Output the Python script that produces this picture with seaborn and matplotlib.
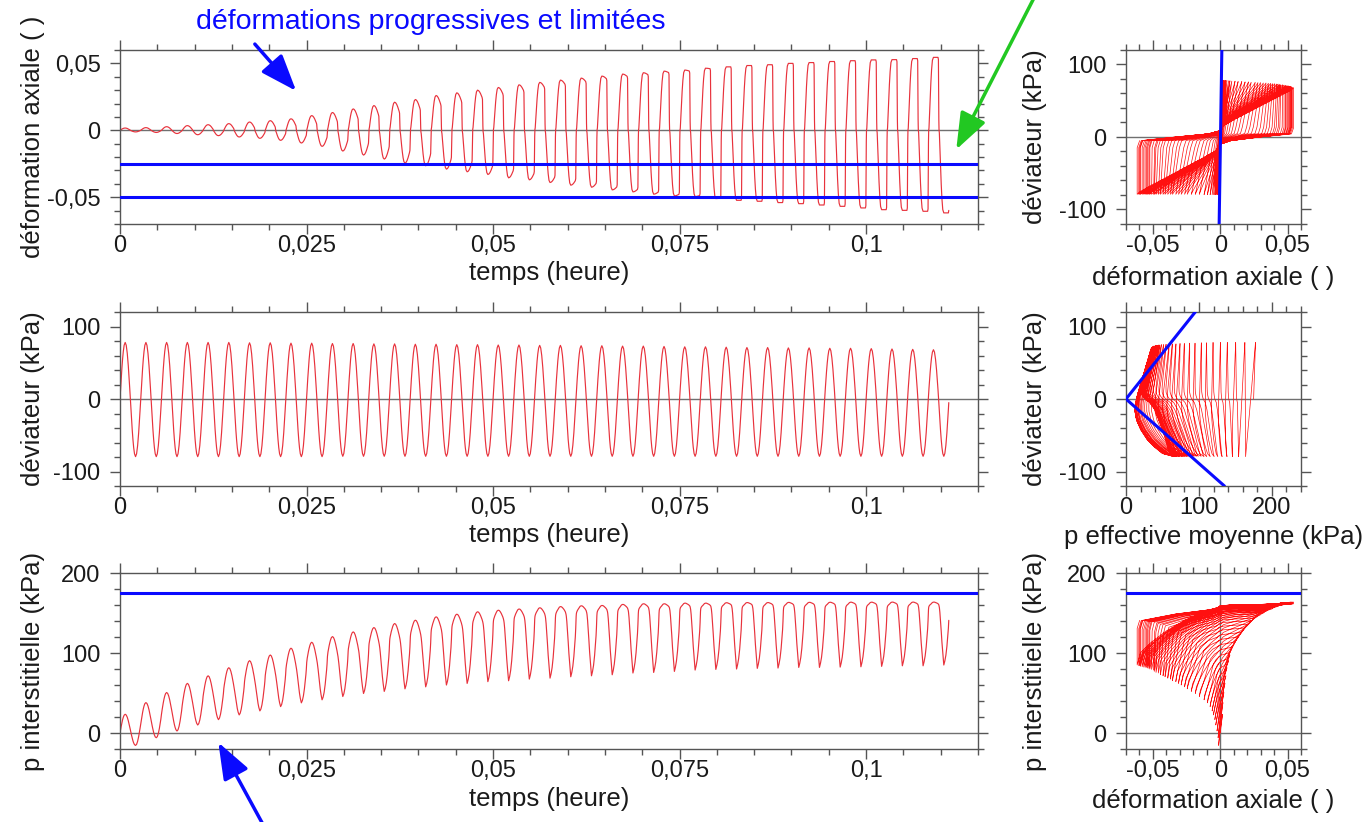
import numpy as np
import pandas as pd
import matplotlib
matplotlib.use("Agg")
import matplotlib.pyplot as plt
import seaborn as sns
from matplotlib.ticker import MultipleLocator, FuncFormatter
from matplotlib.patches import FancyArrowPatch

# ------------------------------------------------------------------ data
cycle_period_h = 10.0 / 3600.0      # 10 s loading cycles
n_cycles = 40
p0_eff = 175.0                      # initial mean effective stress (kPa)

# per-cycle extremes
q_peak = [78, 78, 78, 78, 78, 78, 77.5, 77.5, 77, 77, 76.5, 76.5, 76, 76, 75.5, 75.5,
          75, 75, 74.5, 74.5, 74, 74, 73.5, 73.5, 73, 73, 72.5, 72, 72, 71.5, 71, 71,
          70.5, 70.5, 70, 70, 69.5, 69, 68.5, 68]
q_trough = [-79.5, -79.5, -79.5, -79.5, -79.5, -79.5, -79.5, -79.5, -79.5, -79.5,
            -79, -79, -79, -79, -79, -79, -79, -79, -79, -79, -79, -79, -79, -79, -79,
            -79, -79, -79, -79, -79, -79, -79, -79, -79, -79, -79, -79, -79, -79, -79]
eps_peak = [0.0017, 0.002, 0.0027, 0.0035, 0.0042, 0.005, 0.0062, 0.0072, 0.0086, 0.011,
            0.0133, 0.016, 0.0185, 0.021, 0.023, 0.026, 0.028, 0.030, 0.032, 0.034,
            0.0358, 0.0375, 0.039, 0.0405, 0.042, 0.043, 0.0442, 0.045, 0.0464, 0.0474,
            0.0484, 0.049, 0.050, 0.0506, 0.0514, 0.052, 0.0526, 0.0528, 0.0536, 0.0545]
eps_trough = [-0.0012, -0.0016, -0.0024, -0.0033, -0.004, -0.005, -0.006, -0.0075, -0.0095,
              -0.012, -0.0155, -0.0185, -0.0215, -0.0245, -0.0265, -0.029, -0.031, -0.033,
              -0.0355, -0.037, -0.039, -0.041, -0.0425, -0.0445, -0.046, -0.0477, -0.049,
              -0.0495, -0.051, -0.0523, -0.053, -0.054, -0.0548, -0.0558, -0.0568, -0.058,
              -0.0593, -0.0598, -0.0605, -0.0617]
u_peak = [23.4, 38, 50.6, 62, 71.5, 81.6, 90.4, 97.5, 106, 113.4, 120.5, 126.4, 131.8,
          136.8, 141, 145.2, 148.5, 151.5, 153.5, 155, 156.5, 158, 159, 159.4, 160.7,
          161.5, 161.5, 162.3, 162.3, 162.8, 163, 163, 163.2, 163.3, 163.4, 163.5, 163.5,
          163.6, 163.6, 163.6]
u_trough = [-15.5, -5.9, 2.5, 10, 16.7, 22.6, 27.6, 33, 37.7, 41.5, 45.6, 49.4, 52, 55.2,
            57.7, 60, 62, 64.2, 65.3, 67.4, 68.6, 70.3, 71.5, 72.8, 75, 75.7, 77, 78.7,
            79.5, 80, 80.8, 81.2, 82, 82, 82.4, 82.8, 83.3, 84, 84, 85]
u_start_trough = -23.4
# how far each cycle's waveform has turned into the liquefied (late) shape
shape_weight = [0.0, 0.0, 0.05, 0.1, 0.15, 0.2, 0.25, 0.3, 0.35, 0.4, 0.45, 0.5, 0.55,
                0.6, 0.65, 0.7, 0.74, 0.78, 0.82, 0.85, 0.88, 0.9, 0.92, 0.94, 0.95, 0.96,
                0.97, 0.98, 0.99, 1.0, 1.0, 1.0, 1.0, 1.0, 1.0, 1.0, 1.0, 1.0, 1.0, 1.0]

# waveform shapes within one cycle (fraction of cycle)
phase = [0.0, 0.01, 0.02, 0.035, 0.06, 0.09, 0.125, 0.16, 0.2, 0.25, 0.3, 0.35, 0.4, 0.44,
         0.47, 0.49, 0.5, 0.51, 0.52, 0.535, 0.56, 0.59, 0.625, 0.66, 0.7, 0.75, 0.8, 0.85,
         0.9, 0.94, 0.97, 0.99]
q_shape = [0.0, 0.063, 0.125, 0.218, 0.368, 0.536, 0.707, 0.844, 0.951, 1.0, 0.951, 0.809,
           0.588, 0.368, 0.187, 0.063, 0.0, -0.063, -0.125, -0.218, -0.368, -0.536, -0.707,
           -0.844, -0.951, -1.0, -0.951, -0.809, -0.588, -0.368, -0.187, -0.063]
eps_shape_early = q_shape
eps_shape_late = [-0.55, -0.15, 0.0, 0.03, 0.21, 0.43, 0.65, 0.83, 0.96, 1.0, 1.0, 1.0, 1.0,
                  1.0, 1.0, 0.97, 0.55, 0.15, 0.0, -0.03, -0.21, -0.43, -0.65, -0.83, -0.96,
                  -1.0, -1.0, -1.0, -1.0, -1.0, -1.0, -0.97]
u_shape_early = [0.5, 0.532, 0.563, 0.609, 0.684, 0.768, 0.854, 0.922, 0.976, 1.0, 0.976,
                 0.905, 0.794, 0.684, 0.594, 0.532, 0.5, 0.469, 0.438, 0.391, 0.316, 0.232,
                 0.146, 0.078, 0.024, 0.0, 0.024, 0.095, 0.206, 0.316, 0.406, 0.469]
u_shape_late = [0.813, 0.877, 0.916, 0.935, 0.948, 0.959, 0.968, 0.981, 0.994, 1.0, 1.0,
                0.994, 0.987, 0.981, 0.974, 0.968, 0.961, 0.955, 0.942, 0.916, 0.839, 0.71,
                0.542, 0.361, 0.194, 0.0, 0.065, 0.155, 0.297, 0.452, 0.581, 0.71]

strain_limits = [-0.025, -0.05]
u_limit = 175.0
elastic_eps = [-0.0008, 0.0012]
elastic_q = [-120, 120]
failure_p = [95, 0, 135]
failure_q = [120, 0, -120]

# ------------------------------------------------------------------ build series
rows = []
for k in range(n_cycles):
    w = shape_weight[k]
    nxt = min(k + 1, n_cycles - 1)
    for j, ph in enumerate(phase):
        t = (k + ph) * cycle_period_h
        c = q_shape[j]
        q = c * q_peak[k] if c >= 0 else -c * q_trough[k]
        s = w * eps_shape_late[j] + (1 - w) * eps_shape_early[j]
        if s >= 0:
            e = s * (eps_peak[nxt] if ph >= 0.75 else eps_peak[k])
        else:
            lo = eps_trough[k - 1] if (ph < 0.25 and k > 0) else eps_trough[k]
            e = -s * lo
        r = w * u_shape_late[j] + (1 - w) * u_shape_early[j]
        if ph < 0.25:
            lo_u = u_trough[k - 1] if k > 0 else u_start_trough
            hi_u = u_peak[k]
        elif ph < 0.75:
            lo_u, hi_u = u_trough[k], u_peak[k]
        else:
            lo_u, hi_u = u_trough[k], u_peak[nxt]
        u = lo_u + r * (hi_u - lo_u)
        rows.append((t, q, e, u))

df = pd.DataFrame(rows, columns=["t", "q", "eps", "u"])
df["p"] = p0_eff + df["q"] / 3.0 - df["u"]

# ------------------------------------------------------------------ style
sns.set_theme(style="ticks")
plt.rcParams["font.family"] = ["Liberation Sans", "DejaVu Sans"]
plt.rcParams["axes.unicode_minus"] = False

W, H = 1369, 822
fig = plt.figure(figsize=(W / 100, H / 100), dpi=100)


def px_axes(x0, y0, x1, y1):
    return fig.add_axes([x0 / W, 1 - y1 / H, (x1 - x0) / W, (y1 - y0) / H])


def fmt(x, pos):
    s = f"{x:.3f}".rstrip("0").rstrip(".")
    if s in ("-0", ""):
        s = "0"
    return s.replace(".", ",")


TXT = "#1a1a1a"
AX = "#555555"
RED_T = "#e8323c"
RED_L = "#ff1010"
BLUE = "#0a0aff"


def style(ax, xlim, ylim, xmaj, xmin, ymaj, ymin):
    ax.set_xlim(*xlim)
    ax.set_ylim(*ylim)
    ax.xaxis.set_major_locator(MultipleLocator(xmaj))
    ax.xaxis.set_minor_locator(MultipleLocator(xmin))
    ax.yaxis.set_major_locator(MultipleLocator(ymaj))
    ax.yaxis.set_minor_locator(MultipleLocator(ymin))
    ax.xaxis.set_major_formatter(FuncFormatter(fmt))
    ax.yaxis.set_major_formatter(FuncFormatter(fmt))
    ax.tick_params(which="both", direction="out", top=True, right=True,
                   labeltop=False, labelright=False, color=AX, width=1,
                   labelcolor=TXT)
    ax.tick_params(which="major", length=7, labelsize=17)
    ax.tick_params(which="minor", length=4.5)
    ax.tick_params(axis="x", which="major", pad=1)
    ax.tick_params(axis="y", which="major", pad=7)
    for sp in ax.spines.values():
        sp.set_color(AX)
        sp.set_linewidth(1)
    ax.set_facecolor("white")


LBL = 18.5

# ---------------- left column (time series)
axL1 = px_axes(120, 50, 978, 224)
axL2 = px_axes(120, 312, 978, 486)
axL3 = px_axes(120, 573, 978, 749)

for ax in (axL1, axL2, axL3):
    ax.axhline(0, color="#707070", lw=1, zorder=1)

sns.lineplot(data=df, x="t", y="eps", ax=axL1, color=RED_T, lw=0.85,
             estimator=None, sort=False, zorder=2)
for v in strain_limits:
    axL1.axhline(v, color=BLUE, lw=2.2, zorder=3)
style(axL1, (0, 0.115), (-0.07, 0.06), 0.025, 0.005, 0.05, 0.01)
axL1.set_ylabel("déformation axiale ( )", fontsize=LBL, color=TXT)

sns.lineplot(data=df, x="t", y="q", ax=axL2, color=RED_T, lw=0.85,
             estimator=None, sort=False, zorder=2)
style(axL2, (0, 0.115), (-120, 120), 0.025, 0.005, 100, 20)
axL2.set_ylabel("déviateur (kPa)", fontsize=LBL, color=TXT)

sns.lineplot(data=df, x="t", y="u", ax=axL3, color=RED_T, lw=0.85,
             estimator=None, sort=False, zorder=2)
axL3.axhline(u_limit, color=BLUE, lw=2.2, zorder=3)
style(axL3, (0, 0.115), (-20, 200), 0.025, 0.005, 100, 20)
axL3.set_ylabel("p interstitielle (kPa)", fontsize=LBL, color=TXT)

for ax in (axL1, axL2, axL3):
    ax.set_xlabel("temps (heure)", fontsize=LBL, color=TXT)
    ax.xaxis.set_label_coords(0.5, -0.215)
    ax.yaxis.set_label_coords(-0.0874, 0.5)

# ---------------- right column (paths)
axR1 = px_axes(1126, 50, 1301, 224)
axR2 = px_axes(1126, 312, 1301, 486)
axR3 = px_axes(1126, 573, 1301, 749)

axR1.axhline(0, color="#707070", lw=1, zorder=1)
sns.lineplot(data=df, x="eps", y="q", ax=axR1, color=RED_L, lw=0.5,
             estimator=None, sort=False, zorder=2)
axR1.plot(elastic_eps, elastic_q, color=BLUE, lw=2.2, zorder=3)
style(axR1, (-0.07, 0.06), (-120, 120), 0.05, 0.01, 100, 20)
axR1.set_ylabel("déviateur (kPa)", fontsize=LBL, color=TXT)
axR1.set_xlabel("déformation axiale ( )", fontsize=LBL, color=TXT)
axR1.xaxis.set_label_coords(0.5, -0.24)

axR2.axhline(0, color="#707070", lw=1, zorder=1)
sns.lineplot(data=df, x="p", y="q", ax=axR2, color=RED_L, lw=0.5,
             estimator=None, sort=False, zorder=2)
axR2.plot(failure_p, failure_q, color=BLUE, lw=2.2, zorder=3)
style(axR2, (0, 240), (-120, 120), 100, 20, 100, 20)
axR2.set_ylabel("déviateur (kPa)", fontsize=LBL, color=TXT)
axR2.set_xlabel("p effective moyenne (kPa)", fontsize=LBL, color=TXT)
axR2.xaxis.set_label_coords(0.5, -0.225)

axR3.axhline(0, color="#707070", lw=1, zorder=1)
axR3.axvline(0, color="#707070", lw=1, zorder=1)
sns.lineplot(data=df, x="eps", y="u", ax=axR3, color=RED_L, lw=0.5,
             estimator=None, sort=False, zorder=2)
axR3.axhline(u_limit, color=BLUE, lw=2.2, zorder=3)
style(axR3, (-0.07, 0.06), (-20, 200), 0.05, 0.01, 100, 20)
axR3.set_ylabel("p interstitielle (kPa)", fontsize=LBL, color=TXT)
axR3.set_xlabel("déformation axiale ( )", fontsize=LBL, color=TXT)
axR3.xaxis.set_label_coords(0.5, -0.23)

for ax in (axR1, axR2, axR3):
    ax.yaxis.set_label_coords(-0.452, 0.5)

# ---------------- annotations
fig.text(431 / W, 1 - 22 / H, "déformations progressives et limitées",
         ha="center", va="center", fontsize=20.5, color=BLUE)


def arrow(x0, y0, x1, y1, color):
    a = FancyArrowPatch((x0 / W, 1 - y0 / H), (x1 / W, 1 - y1 / H),
                        transform=fig.transFigure,
                        arrowstyle="-|>,head_length=0.8,head_width=0.3",
                        mutation_scale=28, color=color, lw=2.5)
    fig.add_artist(a)


arrow(253, 42, 298, 93, BLUE)
arrow(1036, -6, 955, 152, "#22c822")
arrow(266, 830, 217, 740, BLUE)

fig.savefig("out.png", dpi=100)
